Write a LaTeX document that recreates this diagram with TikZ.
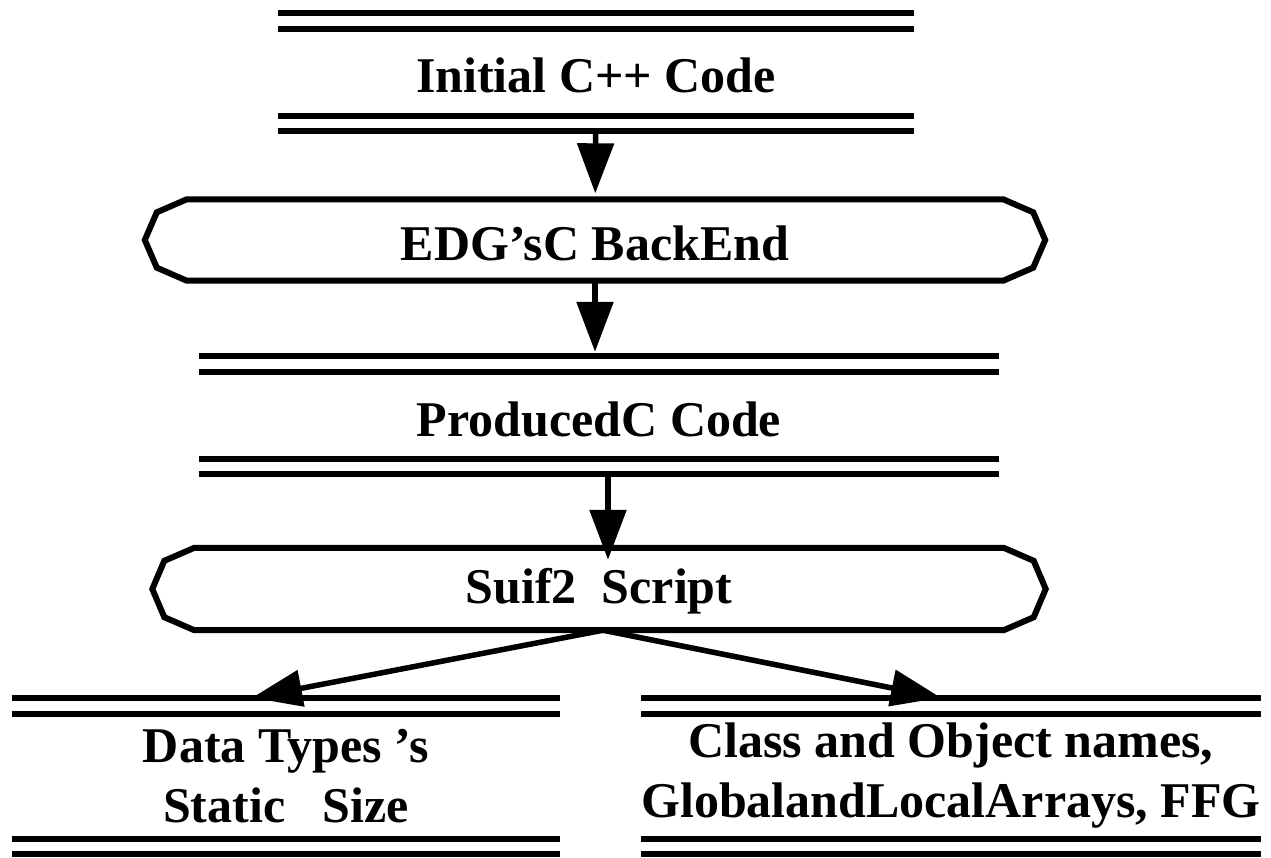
\documentclass[tikz,border=0pt]{standalone}
\usepackage{fontspec}
\setmainfont{Liberation Serif}
\usetikzlibrary{arrows.meta}

% double bars above and below a store
\newcommand{\storelines}[1]{%
  \draw[wall] (#1.north west) -- (#1.north east);
  \draw[wall] ([yshift=-16pt]#1.north west) -- ([yshift=-16pt]#1.north east);
  \draw[wall] ([yshift=15pt]#1.south west) -- ([yshift=15pt]#1.south east);
  \draw[wall] (#1.south west) -- (#1.south east);}

% stretched octagon round a process
\newcommand{\octoline}[1]{%
  \draw[wall] ([xshift=42pt]#1.north west) -- ([xshift=-42pt]#1.north east)
   -- ([xshift=-12pt,yshift=-13pt]#1.north east) -- (#1.east)
   -- ([xshift=-12pt,yshift=13pt]#1.south east) -- ([xshift=-42pt]#1.south east)
   -- ([xshift=42pt]#1.south west) -- ([xshift=12pt,yshift=13pt]#1.south west)
   -- (#1.west) -- ([xshift=12pt,yshift=-13pt]#1.north west) -- cycle;}

\begin{document}
\begin{tikzpicture}[x=1pt, y=-1pt,
  box/.style={inner sep=0pt, align=center, font=\fontsize{50}{60}\selectfont\bfseries},
  single/.style={text height=42pt, text depth=0pt},
  wall/.style={line width=6pt},
  flow/.style={line width=5.5pt, -{Triangle[length=50pt, width=36pt]}}]

  \useasboundingbox (0,0) rectangle (1271,858);

  \draw[]
   (596,72) node[box, single, minimum width=636pt, minimum height=118pt](1) {Initial C++ Code}
   (595,240) node[box, single, minimum width=900pt, minimum height=81pt](2) {EDG'sC BackEnd}
   (599,415) node[box, single, minimum width=799pt, minimum height=118pt](3) {ProducedC Code}
   (599,589) node[box, single, text depth=14pt, minimum width=893pt, minimum height=82pt](4) {Suif2\ \ Script}
   (286,776) node[box, minimum width=547pt, minimum height=156pt](5) {Data Types 's\\Static\ \ \ Size}
   (951,776) node[box, minimum width=617pt, minimum height=156pt](6) {Class and Object names,\\GlobalandLocalArrays, FFG};

  %stores and processes
  \storelines{1}
  \octoline{2}
  \storelines{3}
  \octoline{4}
  \storelines{5}
  \storelines{6}

  \draw[flow, shorten >=6pt] (1) -- (2);
  \draw[flow, shorten >=4pt] (2.south) -- (2.south |- 3.north);
  \draw[flow] ([xshift=9pt]3.south) -- ([xshift=9pt, yshift=-12pt]3.south |- 4.north);
  \draw[flow] ([xshift=4pt]4.south) -- ([xshift=-34pt]5.north);
  \draw[flow] ([xshift=4pt]4.south) -- ([xshift=-10pt]6.north);
\end{tikzpicture}
\end{document}
